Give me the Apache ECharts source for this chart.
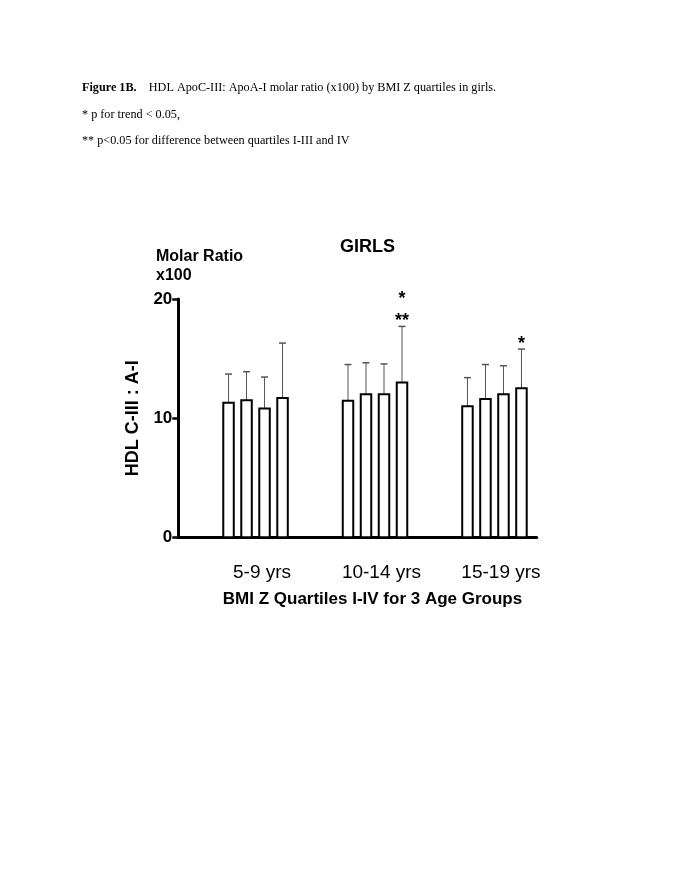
<!DOCTYPE html>
<html><head><meta charset="utf-8">
<script src="https://cdn.jsdelivr.net/npm/echarts@6/dist/echarts.min.js"></script>
<style>html,body{margin:0;padding:0;background:#fff}#c{width:685px;height:886px}</style>
</head><body><div id="c"></div>
<script>
const groups = ['5-9 yrs', '10-14 yrs', '15-19 yrs'];
const yTicks = [0, 10, 20];
const meanQ1 = [11.3, 11.45, 11.0];
const meanQ2 = [11.5, 12.0, 11.6];
const meanQ3 = [10.8, 12.0, 12.0];
const meanQ4 = [11.7, 13.0, 12.5];
const upperQ1 = [13.7, 14.5, 13.4];
const upperQ2 = [13.9, 14.65, 14.5];
const upperQ3 = [13.45, 14.55, 14.4];
const upperQ4 = [16.3, 17.7, 15.8];
const sigQ1 = ['', '', ''];
const sigQ2 = ['', '', ''];
const sigQ3 = ['', '', ''];
const sigQ4 = ['', '*\n**', '*'];

const means = [meanQ1, meanQ2, meanQ3, meanQ4];
const uppers = [upperQ1, upperQ2, upperQ3, upperQ4];
const sigs = [sigQ1, sigQ2, sigQ3, sigQ4];

const STEP = 18, BARW = 10.5, SHIFT = 17.5, CAP = 3.5;

function makeSeries(q) {
  return {
    type: 'custom',
    name: 'Q' + (q + 1),
    data: groups.map((g, i) => [i, means[q][i], uppers[q][i]]),
    renderItem: function (params, api) {
      const gi = api.value(0), m = api.value(1), u = api.value(2);
      const base = api.coord([gi, 0]);
      const top = api.coord([gi, m]);
      const et = api.coord([gi, u]);
      const cx = base[0] + SHIFT + (q - 1.5) * STEP;
      const children = [
        { type: 'line', shape: { x1: cx, y1: top[1], x2: cx, y2: et[1] }, style: { stroke: '#555', lineWidth: 1 } },
        { type: 'line', shape: { x1: cx - CAP, y1: et[1], x2: cx + CAP, y2: et[1] }, style: { stroke: '#555', lineWidth: 1.5 } },
        { type: 'rect', shape: { x: cx - BARW / 2, y: top[1], width: BARW, height: base[1] - top[1] }, style: { fill: '#fff', stroke: '#000', lineWidth: 2 } }
      ];
      const s = sigs[q][params.dataIndex];
      if (s) {
        const lines = s.split('\n');
        lines.forEach((t, k) => {
          const idxFromBottom = lines.length - 1 - k;
          children.push({ type: 'text', style: { text: t, x: cx, y: et[1] - 5 - idxFromBottom * 22, align: 'center', verticalAlign: 'middle', font: 'bold 18px "Liberation Sans", Arial, sans-serif', fill: '#000' } });
        });
      }
      return { type: 'group', children: children };
    }
  };
}

const chart = echarts.init(document.getElementById('c'), null, { renderer: 'canvas' });
chart.setOption({
  backgroundColor: '#fff',
  animation: false,
  grid: { left: 178.3, right: 148.3, top: 299, bottom: 348.7 },
  xAxis: {
    type: 'category',
    data: groups,
    axisLine: { lineStyle: { color: '#000', width: 3 } },
    axisTick: { show: false },
    axisLabel: { color: '#000', fontSize: 19, fontFamily: '"Liberation Sans", Arial, sans-serif', margin: 26, padding: [0, 0, 0, 48] },
    name: 'BMI Z Quartiles I-IV for 3 Age Groups',
    nameLocation: 'middle',
    nameGap: 54,
    nameTextStyle: { color: '#000', fontSize: 17, fontWeight: 'bold', fontFamily: '"Liberation Sans", Arial, sans-serif', padding: [0, 0, 0, 30] }
  },
  yAxis: {
    type: 'value',
    min: yTicks[0], max: yTicks[yTicks.length - 1], interval: 10,
    axisLine: { show: true, lineStyle: { color: '#000', width: 3 } },
    axisTick: { show: true, length: 6, lineStyle: { color: '#000', width: 2.5 } },
    splitLine: { show: false },
    axisLabel: { color: '#000', fontSize: 17, fontWeight: 'bold', fontFamily: '"Liberation Sans", Arial, sans-serif', margin: 6 },
    name: 'HDL C-III : A-I',
    nameLocation: 'middle',
    nameGap: 28,
    nameTextStyle: { color: '#000', fontSize: 18, fontWeight: 'bold', fontFamily: '"Liberation Sans", Arial, sans-serif', padding: [0, 0, 8, 0] }
  },
  series: [0, 1, 2, 3].map(makeSeries),
  graphic: [
    { type: 'text', left: 82, top: 82, style: { rich: { b: { fontWeight: 'bold', fontFamily: '"Liberation Serif", "Times New Roman", serif', fontSize: 12.2, fill: '#000' }, n: { fontFamily: '"Liberation Serif", "Times New Roman", serif', fontSize: 12.2, fill: '#000' } }, text: '{b|Figure 1B.}{n|    HDL ApoC-III: ApoA-I molar ratio (x100) by BMI Z quartiles in girls.}' } },
    { type: 'text', left: 82, top: 109, style: { text: '* p for trend < 0.05,', font: '12.2px "Liberation Serif", "Times New Roman", serif', fill: '#000' } },
    { type: 'text', left: 82, top: 135, style: { text: '** p<0.05 for difference between quartiles I-III and IV', font: '12.2px "Liberation Serif", "Times New Roman", serif', fill: '#000' } },
    { type: 'text', left: 156, top: 247, style: { text: 'Molar Ratio\nx100', font: 'bold 16px "Liberation Sans", Arial, sans-serif', lineHeight: 19, fill: '#000' } },
    { type: 'text', left: 340, top: 238, style: { text: 'GIRLS', font: 'bold 18px "Liberation Sans", Arial, sans-serif', fill: '#000' } }
  ]
});
</script></body></html>
